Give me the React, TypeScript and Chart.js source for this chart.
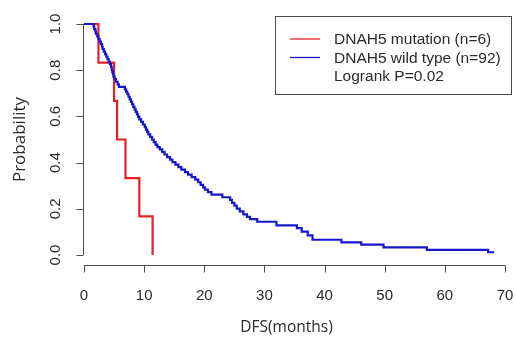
import React, { useEffect, useRef } from 'react';
import { Chart, registerables } from 'chart.js';

Chart.register(...registerables);

// ---- Data ----
const X_TICKS = [0, 10, 20, 30, 40, 50, 60, 70];
const Y_TICKS = [0, 0.2, 0.4, 0.6, 0.8, 1.0];
const Y_TICK_LABELS = ['0.0', '0.2', '0.4', '0.6', '0.8', '1.0'];
const X_TITLE = 'DFS(months)';
const Y_TITLE = 'Probability';

const MUT_LABEL = 'DNAH5 mutation (n=6)';
const WT_LABEL = 'DNAH5 wild type (n=92)';
const PVAL_LABEL = 'Logrank P=0.02';

const MUT_TIMES = [0, 2.4, 5.0, 5.5, 6.9, 9.2, 11.4];
const MUT_SURV = [1, 0.833, 0.667, 0.5, 0.333, 0.167, 0];

const WT_TIMES = [
  0,
  1.6, 1.7, 1.9, 2.0, 2.2, 2.4,
  2.6, 2.8, 3.0, 3.1, 3.3, 3.5,
  3.7, 3.9, 4.1, 4.3, 4.5,
  4.6, 4.7, 4.8, 4.9, 5.1, 5.3, 5.6,
  5.8, 6.8, 7.0, 7.2,
  7.4, 7.6, 7.8, 8.0, 8.2,
  8.4, 8.6, 8.8, 9.0,
  9.2, 9.5, 9.8,
  10.1, 10.3, 10.5, 10.7, 11.0,
  11.3, 11.6, 11.9, 12.2, 12.6,
  13.0, 13.4, 13.8, 14.3,
  14.7, 15.2, 15.7, 16.2,
  16.8, 17.3, 17.9,
  18.5, 19.0, 19.4, 19.8, 20.1,
  20.6, 21.2,
  23.0, 24.3,
  24.6, 25.0, 25.4, 25.9,
  26.5, 27.1, 27.6,
  28.8, 32.0, 35.4, 36.2, 37.2, 38.0, 42.8, 46.1, 49.8, 57.0, 67.2, 68.2,
];
const WT_SURV = [
  1,
  0.989, 0.978, 0.967, 0.957, 0.946, 0.935,
  0.924, 0.913, 0.902, 0.891, 0.880, 0.870,
  0.859, 0.848, 0.837, 0.826, 0.815,
  0.804, 0.793, 0.783, 0.772, 0.761, 0.750, 0.739,
  0.728, 0.717, 0.707, 0.696,
  0.685, 0.674, 0.663, 0.652, 0.641,
  0.630, 0.620, 0.609, 0.598,
  0.587, 0.576, 0.565,
  0.554, 0.543, 0.533, 0.522, 0.511,
  0.500, 0.489, 0.478, 0.467, 0.457,
  0.446, 0.435, 0.424, 0.413,
  0.402, 0.391, 0.380, 0.370,
  0.359, 0.348, 0.337,
  0.326, 0.315, 0.304, 0.293, 0.283,
  0.272, 0.261,
  0.250, 0.239,
  0.226, 0.214, 0.201, 0.189,
  0.176, 0.165, 0.155,
  0.144, 0.128, 0.116, 0.101, 0.085, 0.066, 0.055, 0.045, 0.033, 0.022, 0.012, 0.012,
];

const RED = 'rgb(228, 32, 36)';
const BLUE = 'rgb(22, 22, 205)';
const TEXT = '#2a2a2a';
const AXIS = '#505050';
const TICK_FONT = '15px "Liberation Sans", Arial, sans-serif';
const X_TITLE_FONT = '15.5px "Open Sans", sans-serif';
const Y_TITLE_FONT = '17px "Open Sans", sans-serif';
const LEGEND_FONT = '15.5px "Liberation Sans", Arial, sans-serif';

const toPoints = (xs: number[], ys: number[]) => xs.map((x, i) => ({ x, y: ys[i] }));

const rAxesPlugin = {
  id: 'rAxes',
  afterDraw(chart: any) {
    const { ctx, chartArea } = chart;
    const xs = chart.scales.x;
    const ys = chart.scales.y;
    ctx.save();
    ctx.strokeStyle = AXIS;
    ctx.lineWidth = 1;
    const tickLen = 7;

    // x axis
    const axY = Math.round(chartArea.bottom) + 0.5;
    const xa = xs.getPixelForValue(X_TICKS[0]);
    const xb = xs.getPixelForValue(X_TICKS[X_TICKS.length - 1]);
    ctx.beginPath();
    ctx.moveTo(xa, axY);
    ctx.lineTo(xb, axY);
    X_TICKS.forEach((t) => {
      const px = Math.round(xs.getPixelForValue(t)) + 0.5;
      ctx.moveTo(px, axY);
      ctx.lineTo(px, axY + tickLen);
    });
    ctx.stroke();

    // y axis
    const axX = Math.round(chartArea.left) - 0.5;
    const ya = ys.getPixelForValue(Y_TICKS[0]);
    const yb = ys.getPixelForValue(Y_TICKS[Y_TICKS.length - 1]);
    ctx.beginPath();
    ctx.moveTo(axX, ya);
    ctx.lineTo(axX, yb);
    Y_TICKS.forEach((t) => {
      const py = Math.round(ys.getPixelForValue(t)) + 0.5;
      ctx.moveTo(axX, py);
      ctx.lineTo(axX - tickLen, py);
    });
    ctx.stroke();

    // tick labels
    ctx.fillStyle = TEXT;
    ctx.font = TICK_FONT;
    ctx.textAlign = 'center';
    ctx.textBaseline = 'middle';
    X_TICKS.forEach((t) => {
      ctx.fillText(String(t), xs.getPixelForValue(t), axY + 30);
    });
    Y_TICKS.forEach((t, i) => {
      ctx.save();
      ctx.translate(axX - 28, ys.getPixelForValue(t));
      ctx.rotate(-Math.PI / 2);
      ctx.fillText(Y_TICK_LABELS[i], 0, 0);
      ctx.restore();
    });

    // titles
    ctx.font = X_TITLE_FONT;
    ctx.fillText(X_TITLE, (chartArea.left + chartArea.right) / 2 - 8, axY + 62);
    ctx.font = Y_TITLE_FONT;
    ctx.save();
    ctx.translate(20, (chartArea.top + chartArea.bottom) / 2);
    ctx.rotate(-Math.PI / 2);
    ctx.fillText(Y_TITLE, 0, 0);
    ctx.restore();

    // legend box
    const bx = 275.5, by = 16.5, bw = 236, bh = 78;
    ctx.fillStyle = '#ffffff';
    ctx.fillRect(bx, by, bw, bh);
    ctx.strokeStyle = '#4a4a4a';
    ctx.strokeRect(bx, by, bw, bh);
    const rows = [
      { label: MUT_LABEL, color: RED },
      { label: WT_LABEL, color: BLUE },
      { label: PVAL_LABEL, color: null },
    ];
    const rowY = [39, 57.5, 76];
    ctx.font = LEGEND_FONT;
    ctx.textAlign = 'left';
    rows.forEach((r, i) => {
      if (r.color) {
        ctx.strokeStyle = r.color;
        ctx.lineWidth = 1.3;
        ctx.beginPath();
        ctx.moveTo(290, rowY[i]);
        ctx.lineTo(320, rowY[i]);
        ctx.stroke();
      }
      ctx.fillStyle = TEXT;
      ctx.fillText(r.label, 334, rowY[i] + 1);
    });
    ctx.restore();
  },
};

export default function App() {
  const ref = useRef<HTMLCanvasElement>(null);
  useEffect(() => {
    document.body.style.margin = '0';
    const chart = new Chart(ref.current as HTMLCanvasElement, {
      type: 'line',
      data: {
        datasets: [
          {
            label: WT_LABEL,
            data: toPoints(WT_TIMES, WT_SURV),
            borderColor: BLUE,
            borderWidth: 2.2,
            stepped: true,
            pointRadius: 0,
            fill: false,
            clip: false,
          } as any,
          {
            label: MUT_LABEL,
            data: toPoints(MUT_TIMES, MUT_SURV),
            borderColor: RED,
            borderWidth: 2.2,
            stepped: true,
            pointRadius: 0,
            fill: false,
            clip: false,
          } as any,
        ],
      },
      options: {
        animation: false,
        responsive: false,
        devicePixelRatio: 1,
        layout: { padding: { left: 84, right: 11, top: 14, bottom: 79 } },
        plugins: { legend: { display: false }, tooltip: { enabled: false } },
        scales: {
          x: { type: 'linear', min: 0, max: 70, display: false },
          y: { type: 'linear', min: -0.0433, max: 1.0433, display: false },
        },
      },
      plugins: [rAxesPlugin],
    });
    return () => chart.destroy();
  }, []);
  return (
    <div style={{ width: 516, height: 344, background: '#fff' }}>
      <canvas ref={ref} width={516} height={344} style={{ display: 'block' }} />
    </div>
  );
}
